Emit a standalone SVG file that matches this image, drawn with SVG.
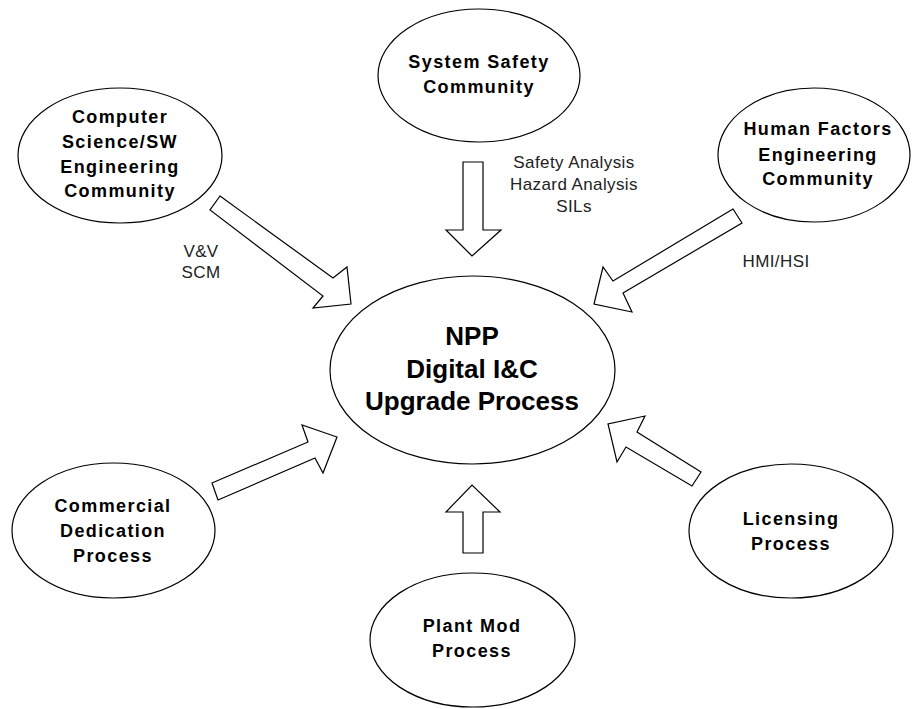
<svg xmlns="http://www.w3.org/2000/svg" width="912" height="709" viewBox="0 0 912 709">
  <style>
    .node { fill: #ffffff; stroke: #000000; stroke-width: 1.2; }
    .arrow { fill: #ffffff; stroke: #000000; stroke-width: 1.2; stroke-linejoin: miter; }
    .title { font-family: "Liberation Sans", Arial, sans-serif; font-weight: bold; font-size: 18px; letter-spacing: 1.4px; text-anchor: middle; fill: #000; }
    .main { font-family: "Liberation Sans", Arial, sans-serif; font-weight: bold; font-size: 26px; text-anchor: middle; fill: #000; }
    .label { font-family: "Liberation Sans", Arial, sans-serif; font-size: 17px; letter-spacing: 0.4px; text-anchor: middle; fill: #222; }
  </style>
  <rect width="912" height="709" fill="#ffffff"/>

  <g id="connectors">
    <!-- System Safety -> center (down) -->
    <polygon class="arrow" points="463,162 483,162 483,230 501,230 472,256 446,230 463,230"/>
    <!-- Plant Mod -> center (up) -->
    <polygon class="arrow" points="463,553 483,553 483,512 500,512 472,485 446,512 463,512"/>
    <!-- Computer Science -> center -->
    <polygon class="arrow" points="220,196 333,278 347,267 351,304 313,308 323,296 210,210"/>
    <!-- Human Factors -> center -->
    <polygon class="arrow" points="733,209 613,281 603,267 594,304 632,312 623,293 742,223"/>
    <!-- Commercial Dedication -> center -->
    <polygon class="arrow" points="212,483 308,442 302,425 337,437 323,473 315,458 218,500"/>
    <!-- Licensing -> center -->
    <polygon class="arrow" points="701,472 637,432 645,416 608,424 617,462 626,447 692,486"/>
  </g>

  <g id="labels">
    <text class="label" x="574" y="168">Safety Analysis</text>
    <text class="label" x="574" y="190">Hazard Analysis</text>
    <text class="label" x="574" y="212">SILs</text>
    <text class="label" x="201" y="257">V&amp;V</text>
    <text class="label" x="201" y="278">SCM</text>
    <text class="label" x="776" y="267">HMI/HSI</text>
  </g>

  <g id="npp-upgrade">
    <ellipse class="node" cx="472.5" cy="370" rx="142.5" ry="94"/>
    <text class="main" x="472" y="345">NPP</text>
    <text class="main" x="472" y="378">Digital I&amp;C</text>
    <text class="main" x="472" y="410">Upgrade Process</text>
  </g>

  <g id="system-safety">
    <ellipse class="node" cx="479" cy="75.5" rx="101" ry="66.5"/>
    <text class="title" x="479" y="68">System  Safety</text>
    <text class="title" x="479" y="93">Community</text>
  </g>

  <g id="computer-science">
    <ellipse class="node" cx="120" cy="155.5" rx="102" ry="67.5"/>
    <text class="title" x="120" y="123">Computer</text>
    <text class="title" x="120" y="148">Science/SW</text>
    <text class="title" x="120" y="173">Engineering</text>
    <text class="title" x="120" y="197">Community</text>
  </g>

  <g id="human-factors">
    <ellipse class="node" cx="814" cy="155" rx="96" ry="67"/>
    <text class="title" x="818" y="135">Human Factors</text>
    <text class="title" x="818" y="161">Engineering</text>
    <text class="title" x="818" y="185">Community</text>
  </g>

  <g id="commercial-dedication">
    <ellipse class="node" cx="113.5" cy="530.5" rx="101.5" ry="67.5"/>
    <text class="title" x="113" y="512">Commercial</text>
    <text class="title" x="113" y="537">Dedication</text>
    <text class="title" x="113" y="562">Process</text>
  </g>

  <g id="plant-mod">
    <ellipse class="node" cx="472.5" cy="640" rx="102.5" ry="67"/>
    <text class="title" x="472" y="632">Plant Mod</text>
    <text class="title" x="472" y="657">Process</text>
  </g>

  <g id="licensing">
    <ellipse class="node" cx="791" cy="531" rx="102" ry="67"/>
    <text class="title" x="791" y="525">Licensing</text>
    <text class="title" x="791" y="550">Process</text>
  </g>
</svg>
